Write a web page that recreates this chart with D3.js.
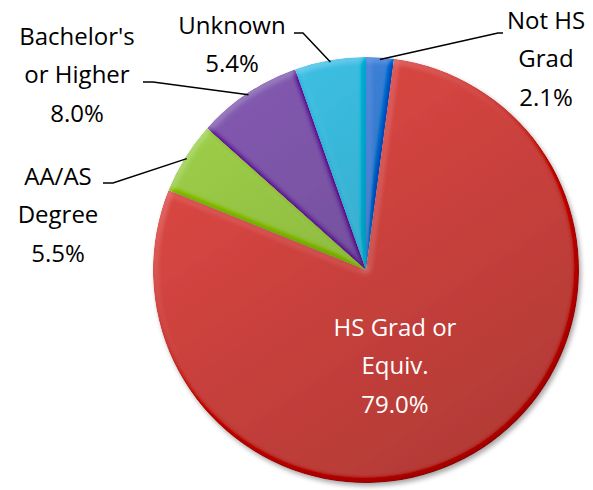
<!DOCTYPE html>
<html lang="en">
<head>
  <meta charset="utf-8" />
  <title>Education Level</title>
  <script src="https://d3js.org/d3.v7.min.js"></script>
  <style>
    * { margin: 0; padding: 0; box-sizing: border-box; }
    html, body { background: #fff; width: 593px; height: 490px; overflow: hidden; }
    svg text { font-family: "Open Sans", Lato, sans-serif; font-size: 24px; }
    .leader { fill: none; stroke: #000; stroke-width: 1.5px; }
  </style>
</head>
<body>
  <svg id="chart" width="593" height="490"></svg>
  <script>
    // data, clockwise from 12 o'clock
    const categories = ["Not HS Grad", "HS Grad or Equiv.", "AA/AS Degree", "Bachelor's or Higher", "Unknown"];
    const values = [2.1, 79.0, 5.5, 8.0, 5.4];
    const labelLines = [["Not HS", "Grad"], ["HS Grad or", "Equiv."], ["AA/AS", "Degree"], ["Bachelor's", "or Higher"], ["Unknown"]];
    const colors = ["#3b82da", "#dc4642", "#9ccd47", "#8159ae", "#3cbfe2"];

    // label placement (centre x, first line centre y, leader elbow & end)
    const layout = [
      { x: 546, y: 20, inside: false, elbow: [498, 33], end: [503, 33] },
      { x: 395, y: 327, inside: true },
      { x: 58, y: 176, inside: false, elbow: [113, 183], end: [103, 183] },
      { x: 77, y: 36, inside: false, elbow: [153, 82], end: [143, 82] },
      { x: 232, y: 25, inside: false, elbow: [303, 33], end: [294, 33] }
    ];

    const cx = 366, cy = 270, R = 213, lineH = 38.5;

    const svg = d3.select("#chart");
    const defs = svg.append("defs");

    // drop shadow under the pie
    const sh = defs.append("filter").attr("id", "shadow")
      .attr("x", "-10%").attr("y", "-10%").attr("width", "130%").attr("height", "130%");
    sh.append("feGaussianBlur").attr("in", "SourceAlpha").attr("stdDeviation", 2.5).attr("result", "b");
    sh.append("feOffset").attr("in", "b").attr("dx", 1.5).attr("dy", 2.5).attr("result", "o");
    sh.append("feComponentTransfer").attr("in", "o").attr("result", "s")
      .append("feFuncA").attr("type", "linear").attr("slope", 0.35);
    const m = sh.append("feMerge");
    m.append("feMergeNode").attr("in", "s");
    m.append("feMergeNode").attr("in", "SourceGraphic");

    // soft bevel on every slice (flat areas stay neutral)
    const bv = defs.append("filter").attr("id", "bevel")
      .attr("x", "-5%").attr("y", "-5%").attr("width", "110%").attr("height", "110%");
    bv.append("feGaussianBlur").attr("in", "SourceAlpha").attr("stdDeviation", 3).attr("result", "blur");
    bv.append("feDiffuseLighting").attr("in", "blur").attr("surfaceScale", 3)
      .attr("diffuseConstant", 1).attr("lighting-color", "#fff").attr("result", "light")
      .append("feDistantLight").attr("azimuth", 235).attr("elevation", 50);
    bv.append("feComposite").attr("in", "SourceGraphic").attr("in2", "light")
      .attr("operator", "arithmetic").attr("k1", 0).attr("k2", 1).attr("k3", 0.4).attr("k4", -0.306)
      .attr("result", "lit");
    bv.append("feComposite").attr("in", "lit").attr("in2", "SourceAlpha").attr("operator", "in");

    // overall shading, darker toward the bottom right
    const g = defs.append("linearGradient").attr("id", "shade")
      .attr("x1", 0.2).attr("y1", 0.1).attr("x2", 0.8).attr("y2", 1);
    g.append("stop").attr("offset", 0).attr("stop-color", "#000").attr("stop-opacity", 0);
    g.append("stop").attr("offset", 1).attr("stop-color", "#000").attr("stop-opacity", 0.2);

    const pie = d3.pie().sort(null).value(d => d)(values);
    const arc = d3.arc().innerRadius(0).outerRadius(R);

    const pg = svg.append("g").attr("transform", `translate(${cx},${cy})`).attr("filter", "url(#shadow)");
    pg.selectAll("path.slice").data(pie).join("path")
      .attr("class", "slice")
      .attr("d", arc)
      .attr("fill", (d, i) => colors[i])
      .attr("filter", "url(#bevel)");
    pg.append("circle").attr("r", R).attr("fill", "url(#shade)");

    // leader lines
    pie.forEach((d, i) => {
      const L = layout[i];
      if (L.inside) return;
      const a = (d.startAngle + d.endAngle) / 2;
      const p = [cx + Math.sin(a) * (R - 2), cy - Math.cos(a) * (R - 2)];
      svg.append("path").attr("class", "leader")
        .attr("d", d3.line()([p, L.elbow, L.end]));
    });

    // labels
    pie.forEach((d, i) => {
      const L = layout[i];
      const lines = labelLines[i].concat([values[i].toFixed(1) + "%"]);
      const t = svg.append("text").attr("text-anchor", "middle")
        .attr("fill", L.inside ? "#fff" : "#000");
      lines.forEach((s, k) => {
        t.append("tspan").attr("x", L.x).attr("y", L.y + k * lineH).attr("dy", "0.36em").text(s);
      });
    });
  </script>
</body>
</html>
